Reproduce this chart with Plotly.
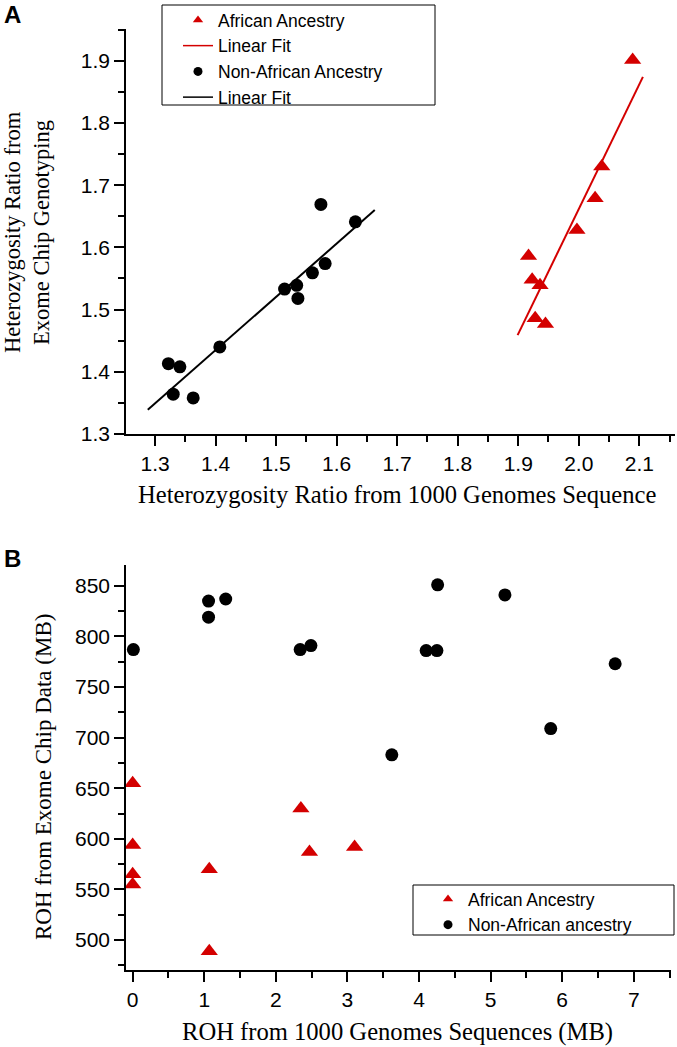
import plotly.graph_objects as go

# ---------------- Panel A data ----------------
af_het_seq = [2.089, 2.038, 2.027, 1.997, 1.917, 1.923, 1.936, 1.928, 1.945]
af_het_chip = [1.901, 1.730, 1.679, 1.628, 1.586, 1.548, 1.539, 1.486, 1.477]
naf_het_seq = [1.322, 1.341, 1.330, 1.363, 1.407, 1.514, 1.534, 1.536, 1.560, 1.581, 1.574, 1.631]
naf_het_chip = [1.413, 1.408, 1.364, 1.358, 1.440, 1.533, 1.539, 1.518, 1.559, 1.574, 1.669, 1.641]
af_fit_x = [1.899, 2.106]
af_fit_y = [1.459, 1.874]
naf_fit_x = [1.288, 1.663]
naf_fit_y = [1.339, 1.660]

# ---------------- Panel B data ----------------
af_roh_seq = [0.0, 0.0, 0.0, 0.0, 1.07, 1.07, 2.35, 2.47, 3.10]
af_roh_chip = [655, 594, 565, 555, 570, 489, 630, 587, 592]
naf_roh_seq = [0.01, 1.06, 1.06, 1.30, 2.34, 2.49, 3.62, 4.10, 4.25, 4.26, 5.20, 5.84, 6.74]
naf_roh_chip = [787, 835, 819, 837, 787, 791, 683, 786, 786, 851, 841, 709, 773]

RED = "#d40000"
BLACK = "#000000"
W, H = 677, 1047
SANS = "Arial, Liberation Sans, sans-serif"
SERIF = "Times New Roman, Liberation Serif, serif"


def px_x(p):
    return p / W


def px_y(p):
    return 1 - p / H


fig = go.Figure()

# Panel A data traces
fig.add_trace(go.Scatter(x=af_het_seq, y=af_het_chip, mode="markers",
                         marker=dict(symbol="triangle-up", size=15, color=RED),
                         xaxis="x", yaxis="y", showlegend=False))
fig.add_trace(go.Scatter(x=af_fit_x, y=af_fit_y, mode="lines",
                         line=dict(color=RED, width=2),
                         xaxis="x", yaxis="y", showlegend=False))
fig.add_trace(go.Scatter(x=naf_het_seq, y=naf_het_chip, mode="markers",
                         marker=dict(symbol="circle", size=13, color=BLACK),
                         xaxis="x", yaxis="y", showlegend=False))
fig.add_trace(go.Scatter(x=naf_fit_x, y=naf_fit_y, mode="lines",
                         line=dict(color=BLACK, width=2),
                         xaxis="x", yaxis="y", showlegend=False))

# Panel A legend entries
fig.add_trace(go.Scatter(x=[None], y=[None], mode="markers", name="African Ancestry",
                         marker=dict(symbol="triangle-up", size=9, color=RED),
                         xaxis="x", yaxis="y", legend="legend"))
fig.add_trace(go.Scatter(x=[None], y=[None], mode="lines", name="Linear Fit",
                         line=dict(color=RED, width=1.5),
                         xaxis="x", yaxis="y", legend="legend"))
fig.add_trace(go.Scatter(x=[None], y=[None], mode="markers", name="Non-African Ancestry",
                         marker=dict(symbol="circle", size=9, color=BLACK),
                         xaxis="x", yaxis="y", legend="legend"))
fig.add_trace(go.Scatter(x=[None], y=[None], mode="lines", name="Linear Fit",
                         line=dict(color=BLACK, width=1.5),
                         xaxis="x", yaxis="y", legend="legend"))

# Panel B data traces
fig.add_trace(go.Scatter(x=af_roh_seq, y=af_roh_chip, mode="markers",
                         marker=dict(symbol="triangle-up", size=15, color=RED),
                         xaxis="x2", yaxis="y2", showlegend=False))
fig.add_trace(go.Scatter(x=naf_roh_seq, y=naf_roh_chip, mode="markers",
                         marker=dict(symbol="circle", size=13, color=BLACK),
                         xaxis="x2", yaxis="y2", showlegend=False))

# Panel B legend entries
fig.add_trace(go.Scatter(x=[None], y=[None], mode="markers", name="African Ancestry",
                         marker=dict(symbol="triangle-up", size=9, color=RED),
                         xaxis="x2", yaxis="y2", legend="legend2"))
fig.add_trace(go.Scatter(x=[None], y=[None], mode="markers", name="Non-African ancestry",
                         marker=dict(symbol="circle", size=9, color=BLACK),
                         xaxis="x2", yaxis="y2", legend="legend2"))

axis_common = dict(showline=True, linecolor="black", linewidth=1.5,
                   ticks="outside", ticklen=10, tickwidth=1.5, tickcolor="black",
                   showgrid=False, zeroline=False, automargin=False,
                   tickfont=dict(family=SANS, size=21, color="black"))

minor_common = dict(ticks="outside", ticklen=6, tickwidth=1.5, tickcolor="black", showgrid=False)

fig.update_layout(
    template="none",
    width=W, height=H,
    margin=dict(l=0, r=0, t=0, b=0, pad=0, autoexpand=False),
    paper_bgcolor="white", plot_bgcolor="white",
    showlegend=True,
    xaxis=dict(axis_common, domain=[px_x(126), px_x(675)], range=[1.252, 2.159],
               tick0=1.3, dtick=0.1, tickformat=".1f", anchor="y",
               minor=dict(minor_common, dtick=0.05, tick0=1.25)),
    yaxis=dict(axis_common, domain=[px_y(434), px_y(29)], range=[1.3, 1.951],
               tick0=1.3, dtick=0.1, tickformat=".1f", anchor="x",
               minor=dict(minor_common, dtick=0.05, tick0=1.3)),
    xaxis2=dict(axis_common, domain=[px_x(126), px_x(671)], range=[-0.093, 7.52],
                tick0=0, dtick=1, anchor="y2",
                minor=dict(minor_common, dtick=0.5, tick0=0)),
    yaxis2=dict(axis_common, domain=[px_y(970), px_y(565)], range=[470.4, 870.6],
                tick0=500, dtick=50, anchor="x2",
                minor=dict(minor_common, dtick=25, tick0=500)),
    legend=dict(x=px_x(178), y=px_y(2), xanchor="left", yanchor="top",
                bgcolor="rgba(0,0,0,0)", borderwidth=0,
                font=dict(family=SANS, size=17.5, color="black")),
    legend2=dict(x=px_x(428), y=px_y(881), xanchor="left", yanchor="top",
                 bgcolor="rgba(0,0,0,0)", borderwidth=0,
                 font=dict(family=SANS, size=17.5, color="black")),
    shapes=[
        dict(type="rect", xref="paper", yref="paper",
             x0=px_x(162), x1=px_x(435), y0=px_y(105), y1=px_y(5),
             line=dict(color="black", width=1), fillcolor="rgba(0,0,0,0)"),
        dict(type="rect", xref="paper", yref="paper",
             x0=px_x(413), x1=px_x(674), y0=px_y(935), y1=px_y(885),
             line=dict(color="black", width=1), fillcolor="rgba(0,0,0,0)"),
    ],
    annotations=[
        dict(text="<b>A</b>", x=px_x(12), y=px_y(15), xref="paper", yref="paper",
             showarrow=False, xanchor="center", yanchor="middle",
             font=dict(family=SANS, size=24, color="black")),
        dict(text="<b>B</b>", x=px_x(12), y=px_y(558), xref="paper", yref="paper",
             showarrow=False, xanchor="center", yanchor="middle",
             font=dict(family=SANS, size=24, color="black")),
        dict(text="Heterozygosity Ratio from<br>Exome Chip Genotyping",
             x=px_x(27), y=px_y(232), xref="paper", yref="paper", textangle=-90,
             showarrow=False, xanchor="center", yanchor="middle",
             font=dict(family=SERIF, size=22.5, color="black")),
        dict(text="Heterozygosity Ratio from 1000 Genomes Sequence",
             x=px_x(397), y=px_y(494), xref="paper", yref="paper",
             showarrow=False, xanchor="center", yanchor="middle",
             font=dict(family=SERIF, size=24.6, color="black")),
        dict(text="ROH from Exome Chip Data (MB)",
             x=px_x(43), y=px_y(777), xref="paper", yref="paper", textangle=-90,
             showarrow=False, xanchor="center", yanchor="middle",
             font=dict(family=SERIF, size=23, color="black")),
        dict(text="ROH from 1000 Genomes Sequences (MB)",
             x=px_x(397), y=px_y(1032), xref="paper", yref="paper",
             showarrow=False, xanchor="center", yanchor="middle",
             font=dict(family=SERIF, size=24.6, color="black")),
    ],
)

fig.write_html(
    "out.html",
    config={"displayModeBar": False},
    post_script="document.documentElement.style.margin='0';"
                "document.body.style.margin='0';document.body.style.padding='0';"
                "document.body.style.overflow='hidden';",
)
